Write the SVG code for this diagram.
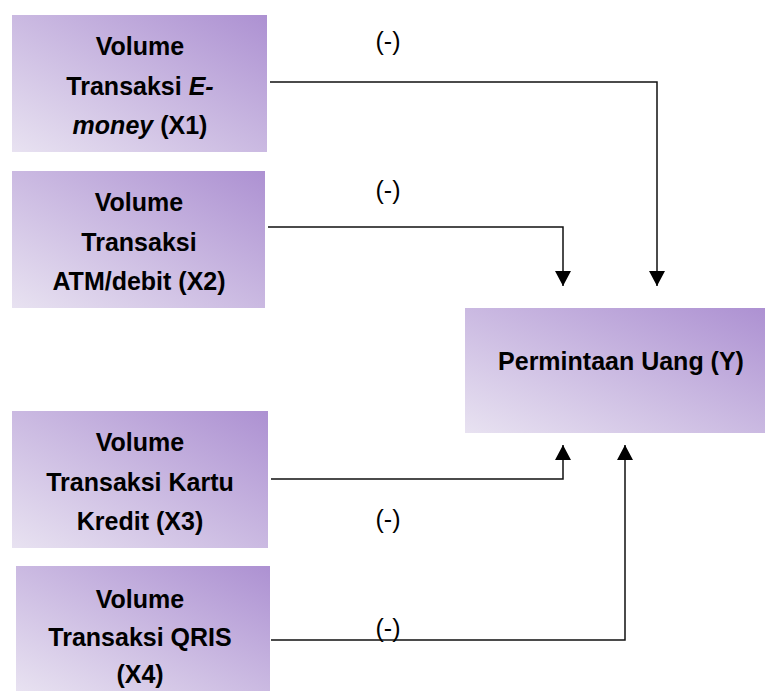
<svg xmlns="http://www.w3.org/2000/svg" width="765" height="692" viewBox="0 0 765 692">
<defs>
<linearGradient id="g" x1="0" y1="1" x2="1" y2="0">
<stop offset="0" stop-color="#e8e2f1"/>
<stop offset="1" stop-color="#ad91d2"/>
</linearGradient>
<marker id="arr" markerUnits="userSpaceOnUse" markerWidth="16" markerHeight="16" refX="15" refY="8" orient="auto">
<path d="M0,0 L15,8 L0,16 Z" fill="#000"/>
</marker>
<style>
.box{fill:url(#g);}
.t{font-family:"Liberation Sans",Arial,sans-serif;font-weight:bold;font-size:25px;fill:#000;text-anchor:middle;}
.s{font-family:"Liberation Sans",Arial,sans-serif;font-size:25px;fill:#000;text-anchor:middle;}
.c{fill:none;stroke:#111;stroke-width:1.5;}
</style>
</defs>
<g id="connectors">
<polyline class="c" points="270,82 657,82 657,286" marker-end="url(#arr)"/>
<polyline class="c" points="268,227 563,227 563,286" marker-end="url(#arr)"/>
<polyline class="c" points="271,479 563,479 563,445" marker-end="url(#arr)"/>
<polyline class="c" points="271,640 625,640 625,445" marker-end="url(#arr)"/>
</g>
<g id="labels">
<text class="s" x="388" y="50">(-)</text>
<text class="s" x="388" y="199">(-)</text>
<text class="s" x="388" y="528">(-)</text>
<text class="s" x="388" y="637">(-)</text>
</g>
<g id="x1">
<rect class="box" x="12" y="15" width="255" height="137"/>
<text class="t" x="140" y="55">Volume</text>
<text class="t" x="140" y="95">Transaksi <tspan font-style="italic">E-</tspan></text>
<text class="t" x="140" y="134"><tspan font-style="italic">money</tspan> (X1)</text>
</g>
<g id="x2">
<rect class="box" x="12" y="171" width="253" height="137"/>
<text class="t" x="139" y="211">Volume</text>
<text class="t" x="139" y="251">Transaksi</text>
<text class="t" x="139" y="290">ATM/debit (X2)</text>
</g>
<g id="y">
<rect class="box" x="465" y="308" width="300" height="125"/>
<text class="t" x="621" y="370">Permintaan Uang (Y)</text>
</g>
<g id="x3">
<rect class="box" x="12" y="411" width="256" height="137"/>
<text class="t" x="140" y="451">Volume</text>
<text class="t" x="140" y="491">Transaksi Kartu</text>
<text class="t" x="140" y="530">Kredit (X3)</text>
</g>
<g id="x4">
<rect class="box" x="16" y="566" width="254" height="125"/>
<text class="t" x="140" y="608">Volume</text>
<text class="t" x="140" y="646">Transaksi QRIS</text>
<text class="t" x="140" y="683">(X4)</text>
</g>
</svg>
